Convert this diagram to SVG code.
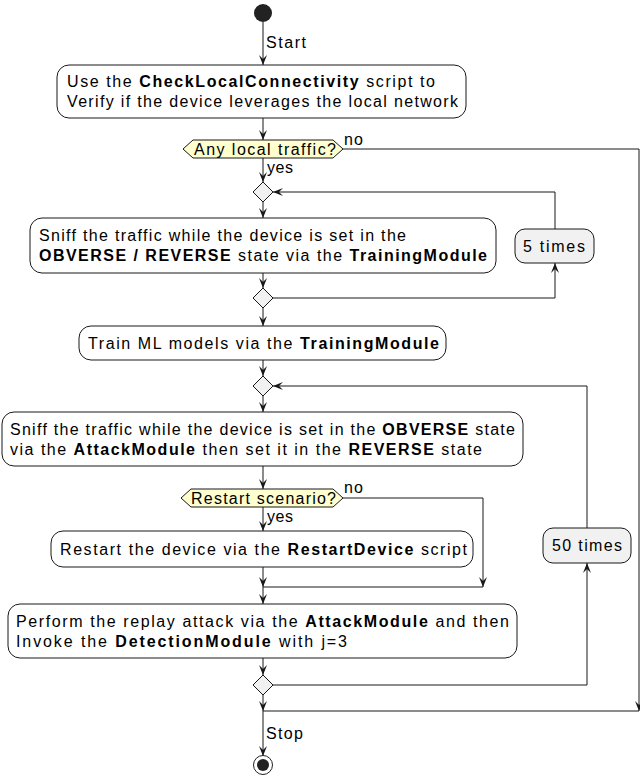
<svg xmlns="http://www.w3.org/2000/svg" width="640" height="779" viewBox="0 0 640 779">
<style>
text{font-family:"Liberation Sans",Arial,sans-serif;font-size:16px;fill:#000}
.b{font-weight:bold}
.act{fill:#fff;stroke:#181818;stroke-width:1}
.cnt{fill:#f1f1f1;stroke:#181818;stroke-width:1}
.dia{fill:#f1f1f1;stroke:#181818;stroke-width:1}
.hex{fill:#fefece;stroke:#181818;stroke-width:1}
.ln{fill:none;stroke:#181818;stroke-width:1}
.ar{fill:none;stroke:#181818;stroke-width:1;marker-end:url(#arr)}
</style>
<defs>
<marker id="arr" viewBox="0 0 10 8" refX="10" refY="4" markerWidth="10" markerHeight="8" markerUnits="userSpaceOnUse" orient="auto">
<path d="M0,0 L10,4 L0,8 L4,4 Z" fill="#181818"/>
</marker>
</defs>
<g id="connectors">
<path class="ar" d="M263,22 V65"/>
<path class="ar" d="M263,118 V140"/>
<path class="ar" d="M263,158 V182"/>
<path class="ar" d="M263,202 V218"/>
<path class="ar" d="M263,273 V288"/>
<path class="ar" d="M263,308 V326"/>
<path class="ar" d="M263,360 V376"/>
<path class="ar" d="M263,396 V412"/>
<path class="ar" d="M263,466 V489"/>
<path class="ar" d="M263,507 V531"/>
<path class="ar" d="M263,567 V587"/>
<path class="ar" d="M263,587 V604"/>
<path class="ar" d="M263,658 V675"/>
<path class="ar" d="M263,695 V711"/>
<path class="ar" d="M263,711 V756"/>
<path class="ar" d="M343,149 H639 V711"/>
<path class="ln" d="M639,711 H263"/>
<path class="ar" d="M273,298 H555 V263"/>
<path class="ar" d="M555,229 V192 H273"/>
<path class="ar" d="M343,498 H483 V587"/>
<path class="ln" d="M483,587 H263"/>
<path class="ar" d="M273,685 H587 V563"/>
<path class="ar" d="M587,528 V386 H273"/>
<text x="266" y="48" textLength="40" lengthAdjust="spacing">Start</text>
<text x="344" y="145" textLength="19" lengthAdjust="spacing">no</text>
<text x="267" y="173" textLength="26" lengthAdjust="spacing">yes</text>
<text x="344" y="493" textLength="19" lengthAdjust="spacing">no</text>
<text x="267" y="522" textLength="26" lengthAdjust="spacing">yes</text>
<text x="266" y="739" textLength="37" lengthAdjust="spacing">Stop</text>
</g>
<g id="start"><circle cx="263" cy="13" r="9" fill="#222"/></g>
<g id="check">
<rect class="act" x="57" y="65" width="409" height="53" rx="12"/>
<text x="67" y="87" textLength="368" lengthAdjust="spacing">Use the <tspan class="b">CheckLocalConnectivity</tspan> script to</text>
<text x="67" y="107" textLength="391" lengthAdjust="spacing">Verify if the device leverages the local network</text>
</g>
<g id="anyLocal">
<polygon class="hex" points="183,149 193,140 333,140 343,149 333,158 193,158"/>
<text x="194" y="155" textLength="142" lengthAdjust="spacing">Any local traffic?</text>
</g>
<g id="merge1"><polygon class="dia" points="263,182 273,192 263,202 253,192"/></g>
<g id="sniffTrain">
<rect class="act" x="30" y="218" width="466" height="55" rx="12"/>
<text x="39" y="241" textLength="367" lengthAdjust="spacing">Sniff the traffic while the device is set in the</text>
<text x="39" y="261" textLength="448" lengthAdjust="spacing"><tspan class="b">OBVERSE / REVERSE</tspan> state via the <tspan class="b">TrainingModule</tspan></text>
</g>
<g id="times5">
<rect class="cnt" x="515" y="229" width="79" height="34" rx="10"/>
<text x="523" y="252" textLength="62" lengthAdjust="spacing">5 times</text>
</g>
<g id="loop1"><polygon class="dia" points="263,288 273,298 263,308 253,298"/></g>
<g id="trainML">
<rect class="act" x="79" y="326" width="367" height="34" rx="12"/>
<text x="88" y="349" textLength="351" lengthAdjust="spacing">Train ML models via the <tspan class="b">TrainingModule</tspan></text>
</g>
<g id="merge2"><polygon class="dia" points="263,376 273,386 263,396 253,386"/></g>
<g id="sniffAttack">
<rect class="act" x="2" y="412" width="521" height="54" rx="12"/>
<text x="10" y="435" textLength="505" lengthAdjust="spacing">Sniff the traffic while the device is set in the <tspan class="b">OBVERSE</tspan> state</text>
<text x="10" y="455" textLength="472" lengthAdjust="spacing">via the <tspan class="b">AttackModule</tspan> then set it in the <tspan class="b">REVERSE</tspan> state</text>
</g>
<g id="restartQ">
<polygon class="hex" points="181,498 191,489 333,489 343,498 333,507 191,507"/>
<text x="191" y="504" textLength="145" lengthAdjust="spacing">Restart scenario?</text>
</g>
<g id="restart">
<rect class="act" x="51" y="531" width="422" height="36" rx="12"/>
<text x="60" y="555" textLength="407" lengthAdjust="spacing">Restart the device via the <tspan class="b">RestartDevice</tspan> script</text>
</g>
<g id="times50">
<rect class="cnt" x="543" y="528" width="88" height="35" rx="10"/>
<text x="552" y="551" textLength="70" lengthAdjust="spacing">50 times</text>
</g>
<g id="replay">
<rect class="act" x="8" y="604" width="509" height="54" rx="12"/>
<text x="16" y="627" textLength="493" lengthAdjust="spacing">Perform the replay attack via the <tspan class="b">AttackModule</tspan> and then</text>
<text x="16" y="647" textLength="331" lengthAdjust="spacing">Invoke the <tspan class="b">DetectionModule</tspan> with j=3</text>
</g>
<g id="loop2"><polygon class="dia" points="263,675 273,685 263,695 253,685"/></g>
<g id="stop">
<circle cx="263" cy="765" r="9.5" fill="#fff" stroke="#222" stroke-width="1"/>
<circle cx="263" cy="765" r="6" fill="#222"/>
</g>
</svg>
